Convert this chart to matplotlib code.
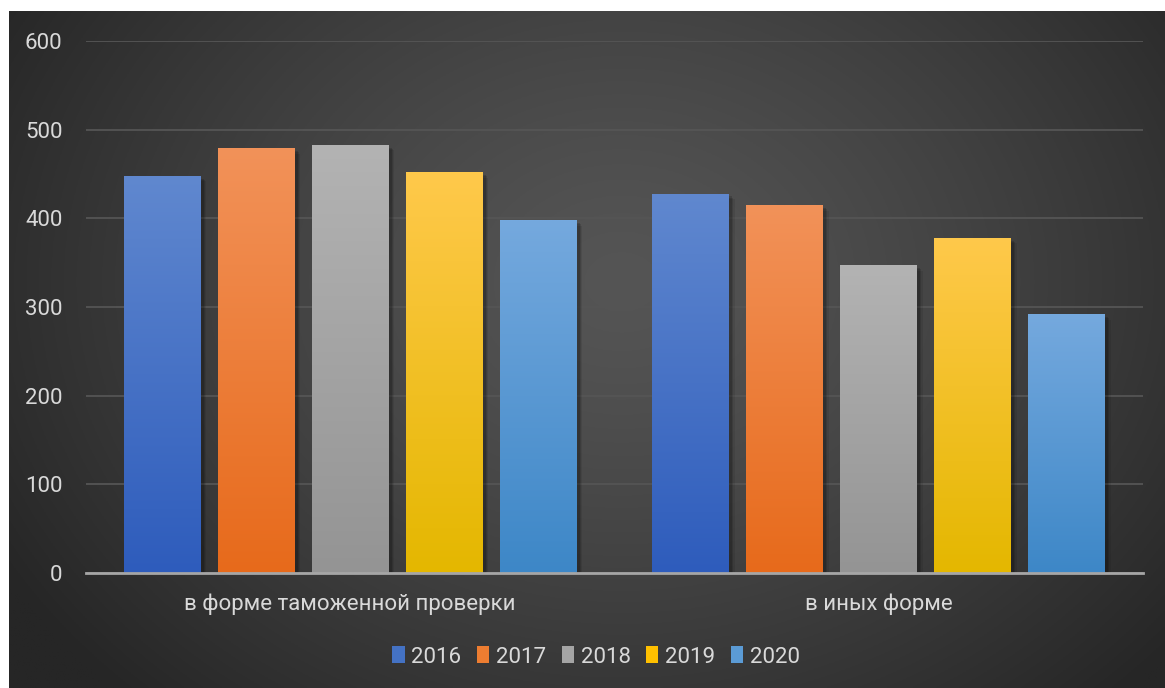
import numpy as np
import matplotlib
matplotlib.use('Agg')
import matplotlib.pyplot as plt
import matplotlib.patheffects as pe
from matplotlib.colors import LinearSegmentedColormap, to_rgb
from matplotlib.patches import Patch

# ------------------------------------------------------------
# data
# ------------------------------------------------------------
categories = ['в форме таможенной проверки', 'в иных форме']
years = ['2016', '2017', '2018', '2019', '2020']
v2016 = [448, 428]
v2017 = [479, 415]
v2018 = [483, 347]
v2019 = [452, 378]
v2020 = [398, 292]
series = [v2016, v2017, v2018, v2019, v2020]

# colours: gradient top / bottom, legend swatch
top_colors = ['#6088cf', '#f29259', '#b3b3b3', '#ffc94b', '#75a9de']
bot_colors = ['#2e5cbc', '#e76a1b', '#949494', '#e4b700', '#3d87c7']
leg_colors = ['#4472c4', '#ed7d31', '#a5a5a5', '#ffc000', '#5b9bd5']

TXT = '#d9d9d9'
plt.rcParams['font.family'] = ['Roboto', 'DejaVu Sans']

W, H = 1165, 688
fig = plt.figure(figsize=(W / 100, H / 100), dpi=100)
fig.patch.set_facecolor('white')

# ------------------------------------------------------------
# dark radial background
# ------------------------------------------------------------
bg = fig.add_axes([9 / W, 0, 1 - 9 / W, 1 - 11 / H])
bg.set_axis_off()
yy, xx = np.mgrid[0:1:300j, 0:1:500j]
d = np.sqrt(((xx - 0.53) / 0.62) ** 2 + ((yy - 0.40) / 0.85) ** 2)
d = np.clip(d, 0, 1) ** 1.3
light, dark = np.array(to_rgb('#555555')), np.array(to_rgb('#262626'))
img = light[None, None, :] * (1 - d[..., None]) + dark[None, None, :] * d[..., None]
bg.imshow(img, aspect='auto', extent=(0, 1, 0, 1), origin='upper')
bg.set_xlim(0, 1)
bg.set_ylim(0, 1)

# ------------------------------------------------------------
# bars
# ------------------------------------------------------------
ax = fig.add_axes([86 / W, 1 - 573 / H, (1143 - 86) / W, (573 - 41) / H])
ax.patch.set_alpha(0)

cat_w = (1143 - 86) / 2
bw = 77 / cat_w
step = 94 / cat_w
x = np.arange(len(categories))

shadow = [pe.SimplePatchShadow(offset=(o, -o), shadow_rgbFace='black', alpha=a)
          for o, a in [(4, 0.08), (3, 0.12), (2, 0.15)]] + [pe.Normal()]

for i, vals in enumerate(series):
    bars = ax.bar(x + (i - 2) * step, vals, bw, color=leg_colors[i], zorder=3,
                  label=years[i], path_effects=shadow)
    cmap = LinearSegmentedColormap.from_list('g%d' % i, [top_colors[i], bot_colors[i]])
    grad = np.linspace(0, 1, 256).reshape(-1, 1)
    for b in bars:
        x0, w_, h_ = b.get_x(), b.get_width(), b.get_height()
        im = ax.imshow(grad, cmap=cmap, aspect='auto', origin='upper',
                       extent=(x0, x0 + w_, 0, h_), zorder=3.5)
        im.set_clip_path(b)

ax.set_xlim(-0.5, 1.5)
ax.set_ylim(0, 600)
ax.set_yticks(range(0, 601, 100))
ax.set_xticks(x)
ax.set_xticklabels(categories)
ax.yaxis.grid(True, color='#555555', lw=1.3)
ax.set_axisbelow(True)
for s in ['top', 'right', 'left']:
    ax.spines[s].set_visible(False)
ax.spines['bottom'].set_color('#a6a6a6')
ax.spines['bottom'].set_linewidth(2)
ax.spines['bottom'].set_zorder(5)
ax.tick_params(axis='both', length=0, colors=TXT, labelsize=16)
ax.tick_params(axis='y', pad=17)
ax.tick_params(axis='x', pad=15)

handles = [Patch(facecolor=c, label=y) for c, y in zip(leg_colors, years)]
fig.legend(handles=handles, loc='center', bbox_to_anchor=(596 / W, 1 - 657 / H),
           ncol=5, frameon=False, fontsize=16, labelcolor=TXT,
           handlelength=0.55, handleheight=0.8, handletextpad=0.3, columnspacing=0.7)

fig.savefig('out.png', dpi=100)
